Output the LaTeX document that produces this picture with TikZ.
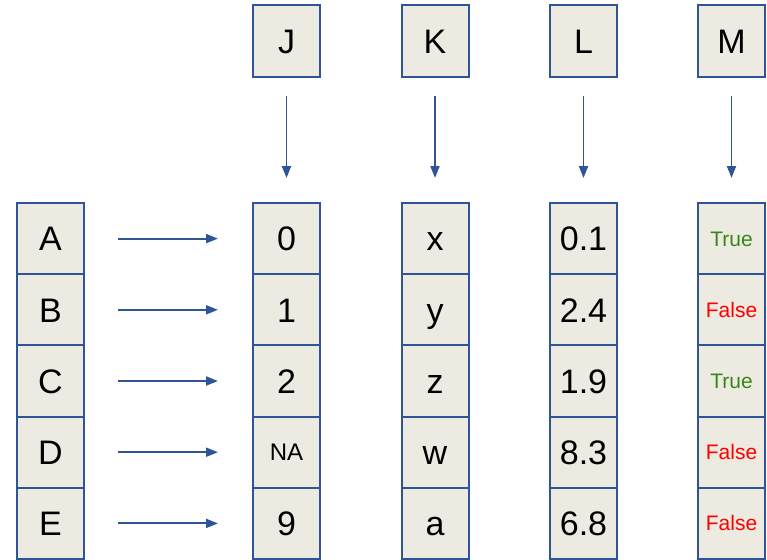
\documentclass[tikz,border=0pt]{standalone}
\usepackage{fontspec}
\setmainfont{Liberation Sans}
\usetikzlibrary{arrows.meta}
\definecolor{cellfill}{HTML}{EDEBE1}
\definecolor{cellline}{HTML}{2F5597}
\definecolor{truegreen}{HTML}{38861A}
\definecolor{falsered}{HTML}{FF0000}
\tikzset{
  cell/.style={draw=cellline, fill=cellfill, line width=2pt,
    minimum width=67pt, minimum height=71.2pt, inner sep=0pt,
    text height=24.5pt, text depth=0pt,
    font=\fontsize{34}{34}\selectfont},
  bigtext/.style={},
  natext/.style={font=\fontsize{24}{24}\selectfont, text height=17pt},
  headbox/.style={cell, minimum height=72pt},
  tiny/.style={font=\fontsize{21}{21}\selectfont, text height=15pt},
  link/.style={draw=cellline, line width=1.9pt, -{Triangle[length=12pt,width=9pt]}}
}
\begin{document}
\begin{tikzpicture}[x=1pt,y=-1pt]
\useasboundingbox (0,0) rectangle (767,559);
% header boxes
\node[headbox] (hJ) at (286.5,41) {J};
\node[headbox] (hK) at (435,41) {K};
\node[headbox] (hL) at (583.5,41) {L};
\node[headbox] (hM) at (731.5,41) {M};
% index column
\foreach \t [count=\i] in {A,B,C,D,E}
  \node[cell] (i\i) at (50.5,{203+35.6+71.2*(\i-1)}) {\t};
% column J
\foreach \t/\s [count=\i] in {0/bigtext,1/bigtext,2/bigtext,NA/natext,9/bigtext}
  \node[cell, \s] (j\i) at (286.5,{203+35.6+71.2*(\i-1)}) {\t};
% column K
\foreach \t [count=\i] in {x,y,z,w,a}
  \node[cell] (k\i) at (435,{203+35.6+71.2*(\i-1)}) {\t};
% column L
\foreach \t [count=\i] in {0.1,2.4,1.9,8.3,6.8}
  \node[cell] (l\i) at (583.5,{203+35.6+71.2*(\i-1)}) {\t};
% column M
\foreach \t/\c [count=\i] in {True/truegreen,False/falsered,True/truegreen,False/falsered,False/falsered}
  \node[cell, tiny, text=\c] (m\i) at (731.5,{203+35.6+71.2*(\i-1)}) {\t};
% header arrows
\foreach \h/\c in {hJ/j1,hK/k1,hL/l1,hM/m1}
  \draw[link] ([yshift=-18pt]\h.south) -- ([yshift=24pt]\c.north);
% row arrows
\foreach \i in {1,...,5}
  \draw[link] ([xshift=33pt]i\i.east) -- ([xshift=-34pt]j\i.west);
\end{tikzpicture}
\end{document}
